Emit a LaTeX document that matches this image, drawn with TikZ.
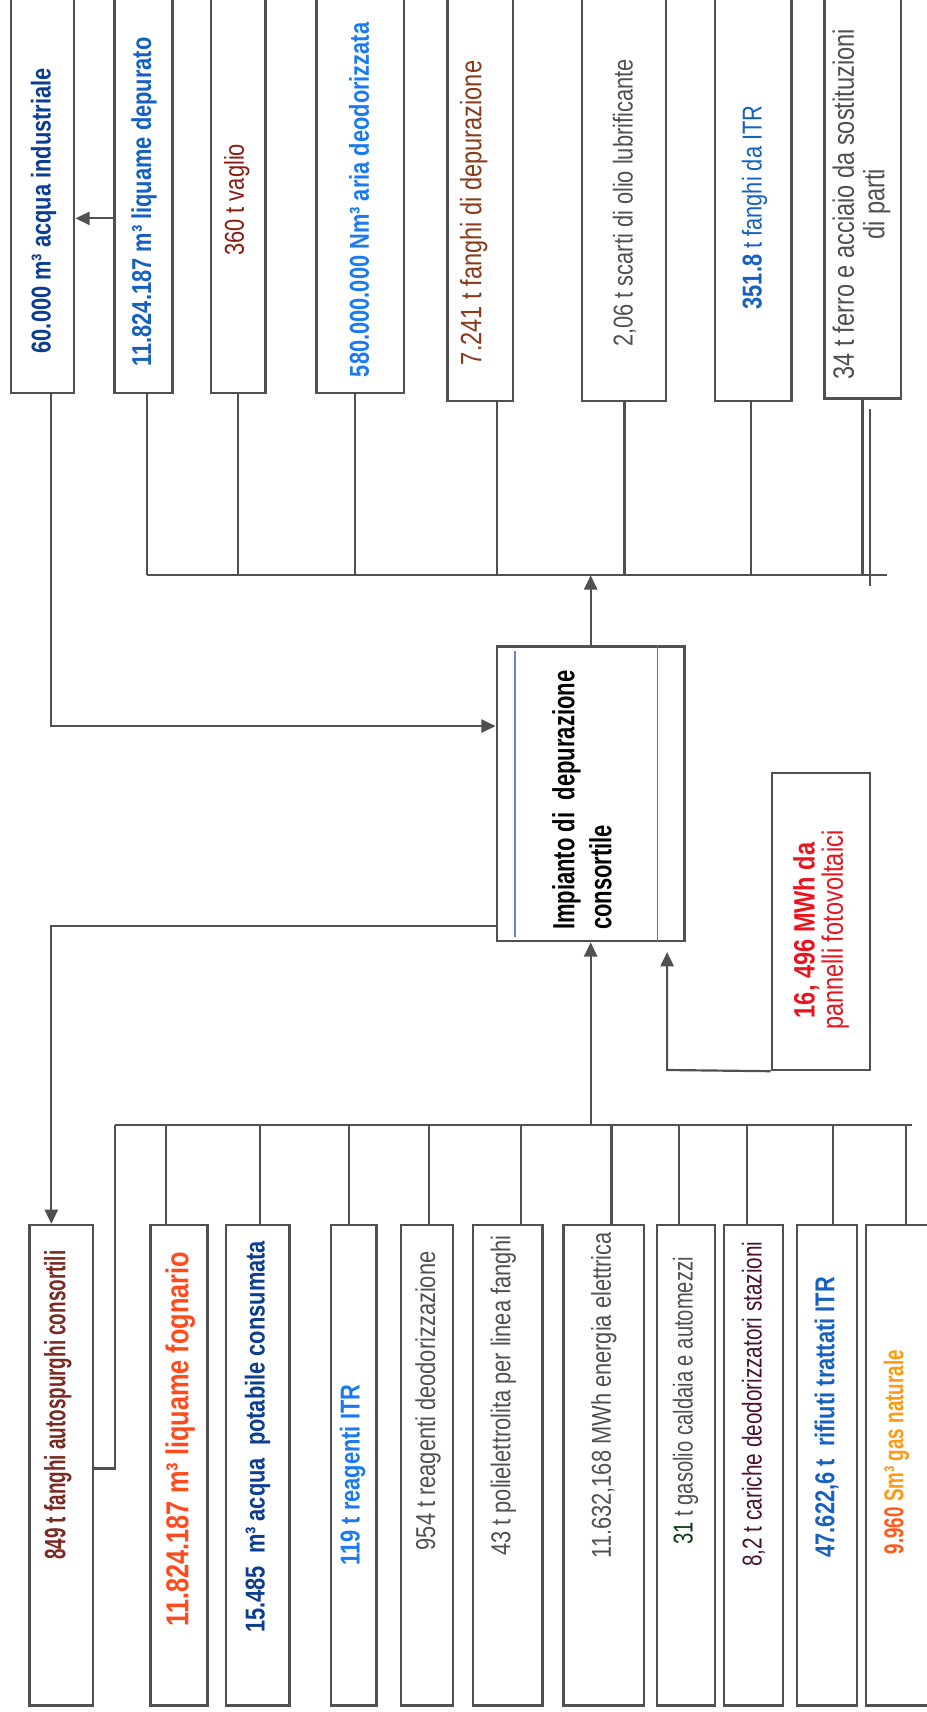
\documentclass[tikz,border=0pt]{standalone}
\usepackage{fontspec}
\setmainfont{Liberation Sans}[FakeStretch=0.8]
\newfontfamily\narrowfont{Liberation Sans}[FakeStretch=0.69]
\usetikzlibrary{arrows.meta}
\definecolor{ln}{HTML}{505050}
\definecolor{dblue}{HTML}{0B3D91}
\definecolor{mblue}{HTML}{1560C0}
\definecolor{bblue}{HTML}{1A7AF0}
\definecolor{dred}{HTML}{8B1A10}
\definecolor{brn}{HTML}{8A3A18}
\definecolor{gtxt}{HTML}{505050}
\definecolor{cbrown}{HTML}{7A2A20}
\definecolor{orred}{HTML}{FF4A1C}
\definecolor{dgreen}{HTML}{0E3A1A}
\definecolor{maroon}{HTML}{4A1232}
\definecolor{orng}{HTML}{FF9A10}
\definecolor{orng2}{HTML}{FF5A1A}
\definecolor{pvred}{HTML}{E8141E}
\definecolor{lblue}{HTML}{6E84C8}
\definecolor{rblue}{HTML}{3C7CD0}
\newcommand\fsz{\fontsize{25}{28}\selectfont}
\newcommand\mkbox[5]{\node[box, minimum width={(#4)-(#2)}, minimum height={(#5)-(#3)}] (#1) at ({((#2)+(#4))/2},{((#3)+(#5))/2}) {};}
\begin{document}
\begin{tikzpicture}[x=1pt,y=-1pt,
  box/.style={draw=ln, line width=2.2pt, fill=white, inner sep=0pt},
  conn/.style={draw=ln, line width=2pt},
  arr/.style={conn, -{Triangle[length=13pt,width=12pt]}},
  tr/.style={rotate=90, inner sep=0pt, font=\fsz},
  tb/.style={rotate=90, inner sep=0pt, font=\fsz\bfseries},
  tn/.style={rotate=90, inner sep=0pt, font=\fsz\narrowfont\bfseries},
  tnr/.style={rotate=90, inner sep=0pt, font=\fsz\narrowfont},
]
\fill[white] (0,0) rectangle (849,1568);
\useasboundingbox (0,0) rectangle (849,1568);

% output boxes (top)
\mkbox{b1}{10}{-10}{68}{360}
\mkbox{b2}{105}{-10}{158}{360}
\mkbox{b3}{193}{-10}{243}{360}
\mkbox{b4}{290}{-10}{370}{360}
\mkbox{b5}{410}{-10}{470}{367}
\mkbox{b6}{533}{-10}{610}{367}
\mkbox{b7}{655}{-10}{725}{367}
\mkbox{b8}{755}{-10}{825}{365}

% central and PV boxes
\mkbox{c}{455}{592}{627}{862}
\mkbox{pv}{707}{708}{797}{980}

% input boxes (bottom)
\mkbox{d1}{27}{1122}{85}{1562}
\mkbox{d2}{138}{1122}{190}{1562}
\mkbox{d3}{207}{1122}{265}{1562}
\mkbox{d4}{303}{1122}{345}{1562}
\mkbox{d5}{367}{1122}{415}{1562}
\mkbox{d6}{433}{1122}{497}{1562}
\mkbox{d7}{516}{1122}{590}{1562}
\mkbox{d8}{602}{1122}{655}{1562}
\mkbox{d9}{663}{1122}{717}{1562}
\mkbox{d10}{730}{1122}{785}{1562}
\mkbox{d11}{793}{1122}{870}{1562}

% blue lines inside central box
\draw[lblue, line width=1.6pt] ([xshift=18pt,yshift=-5pt]c.north west) -- ([xshift=18pt,yshift=5pt]c.south west);
\draw[rblue, line width=1.6pt] ([xshift=-26pt]c.north east) -- ([xshift=-26pt]c.south east);

% texts top
\node[tb, text=dblue] (tb1) at (40,193) {60.000 m³ acqua industriale};
\node[tb, text=mblue] (tb2) at (132,185) {11.824.187 m³ liquame depurato};
\node[tr, text=dred] (tb3) at (217,183) {360 t vaglio};
\node[tb, text=bblue] (tb4) at (329,183) {580.000.000 Nm³ aria deodorizzata};
\node[tr, text=brn, font=\fontsize{27}{30}\selectfont] (tb5) at (434,195) {7.241 t fanghi di depurazione};
\node[tr, text=gtxt] (tb6) at (572,186) {2,06 t scarti di olio lubrificante};
\node[tr, text=mblue] (tb7) at (691,190) {\textbf{351.8} t fanghi da ITR};
\node[tr, text=gtxt, align=center, font=\fontsize{27}{28}\selectfont] (tb8) at (789,187) {34 t ferro e acciaio da sostituzioni\\di parti};

% central text
\node[rotate=90, inner sep=0pt, align=left, font=\fontsize{28}{34}\selectfont\bfseries\addfontfeatures{FakeStretch=0.72}] (tc) at (533,733) {Impianto di\ \ depurazione\\consortile};
% PV text
\node[rotate=90, inner sep=0pt, align=center, text=pvred, font=\fontsize{27}{26}\selectfont] (tpv) at (752,852) {\textbf{16, 496 MWh da}\\pannelli fotovoltaici};

% texts bottom
\node[tb, text=cbrown, font=\fontsize{27}{30}\selectfont\bfseries\addfontfeatures{FakeStretch=0.64}] (td1) at (53,1287) {849 t fanghi autospurghi consortili};
\node[tb, text=orred, font=\fontsize{29}{30}\selectfont\bfseries] (td2) at (165,1318) {11.824.187 m³ liquame fognario};
\node[tb, text=dblue] (td3) at (236,1316) {15.485\ \ m³ acqua\ \ potabile consumata};
\node[tb, text=bblue] (td4) at (323,1351) {119 t reagenti ITR};
\node[tr, text=gtxt] (td5) at (392,1283) {954 t reagenti deodorizzazione};
\node[tr, text=gtxt] (td6) at (461,1278) {43 t polielettrolita per linea fanghi};
\node[tr, text=gtxt] (td7) at (553,1278) {11.632,168 MWh energia elettrica};
\node[tr, text=gtxt, font=\fontsize{25}{28}\selectfont\addfontfeatures{FakeStretch=0.74}] (td8) at (628,1283) {{\color{dgreen}31} t gasolio caldaia e automezzi};
\node[tr, text=maroon, font=\fontsize{25}{28}\selectfont\addfontfeatures{FakeStretch=0.76}] (td9) at (690,1286) {8,2 t cariche deodorizzatori stazioni};
\node[tb, text=mblue] (td10) at (757,1298) {47.622,6 t\ \ rifiuti trattati ITR};
\node[tn, text=orng] (td11) at (821,1330) {{\color{orng2}9.960} Sm³ gas naturale};

% coordinates of busses
\coordinate (tbl) at (135,527);
\coordinate (tbr) at (812,527);
\coordinate (bbl) at (105,1030);
\coordinate (bbr) at (835,1030);

% top connectors
\foreach \n/\xx in {b2/135,b3/218,b4/325,b5/455,b6/572,b7/688,b8/790}
  \draw[conn] (\xx,0 |- \n.south) -- (\xx,0 |- tbl);
\draw[conn] (tbl) -- (tbr);
\draw[conn] (797,375) -- (797,537);
\draw[arr] (c.north) -- (c.north |- tbl);

% water recycling
\draw[arr] (b2.west |- 0,200) -- (b1.east |- 0,200);
\draw[arr] (47,0 |- b1.south) -- (47,665) -- (c.west |- 0,665);

% bottom connectors
\draw[conn] (d1.east |- 0,1345) -- (105,1345) -- (bbl);
\draw[conn] (bbl) -- (bbr);
\foreach \n/\xx in {d2/152,d3/238,d4/320,d5/393,d6/477,d7/560,d8/622,d9/684,d10/763,d11/830}
  \draw[conn] (\xx,0 |- bbl) -- (\xx,0 |- \n.north);
\draw[arr] (c.south |- bbl) -- (c.south);

% sludge back to autospurghi
\draw[arr] (c.west |- 0,848) -- (47,848) -- (47,0 |- d1.north);

% PV
\draw[arr] (pv.south west) -- (611,980) -- (611,872);
\end{tikzpicture}
\end{document}
